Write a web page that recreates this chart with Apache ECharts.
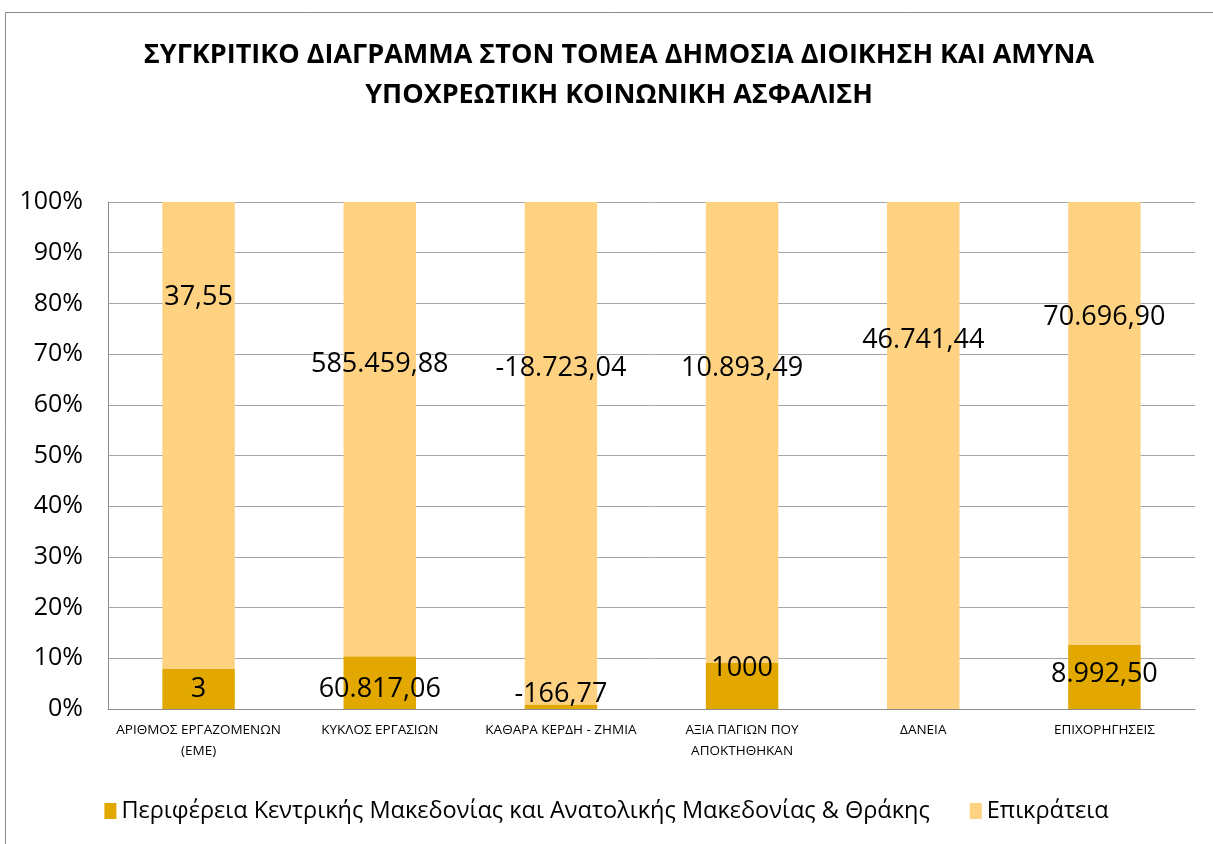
<!DOCTYPE html>
<html>
<head>
<meta charset="utf-8">
<script src="https://cdn.jsdelivr.net/npm/echarts@6/dist/echarts.min.js"></script>
<style>
  html, body { margin: 0; padding: 0; background: #fff; }
  #chart { width: 1213px; height: 844px; }
</style>
</head>
<body>
<div id="chart"></div>
<script>
  // κατηγορίες και τιμές όπως στο διάγραμμα
  const categories = [
    'ΑΡΙΘΜΟΣ ΕΡΓΑΖΟΜΕΝΩΝ\n(ΕΜΕ)',
    'ΚΥΚΛΟΣ ΕΡΓΑΣΙΩΝ',
    'ΚΑΘΑΡΑ ΚΕΡΔΗ - ΖΗΜΙΑ',
    'ΑΞΙΑ ΠΑΓΙΩΝ ΠΟΥ\nΑΠΟΚΤΗΘΗΚΑΝ',
    'ΔΑΝΕΙΑ',
    'ΕΠΙΧΟΡΗΓΗΣΕΙΣ'
  ]
  const regionValues = [3, 60817.06, -166.77, 1000, null, 8992.50]
  const stateValues = [37.55, 585459.88, -18723.04, 10893.49, 46741.44, 70696.90]
  const yTicks = [0, 10, 20, 30, 40, 50, 60, 70, 80, 90, 100]

  // label offsets (pixels), styling only
  const regionLabelShift = [1, 7, -12, -17, 0, -2]
  const stateLabelShift = [82, 149, 153, 153, 125, 102]

  const regionName = 'Περιφέρεια Κεντρικής Μακεδονίας και Ανατολικής Μακεδονίας & Θράκης'
  const stateName = 'Επικράτεια'

  function fmt (v) {
    if (v === null || v === undefined) return ''
    if (Number.isInteger(v)) return String(v)
    const neg = v < 0
    const parts = Math.abs(v).toFixed(2).split('.')
    const intPart = parts[0].replace(/\B(?=(\d{3})+(?!\d))/g, '.')
    return (neg ? '-' : '') + intPart + ',' + parts[1]
  }

  // share of the region relative to the state total, rest up to 100%
  const regionShare = regionValues.map((v, i) => v === null ? 0 : v / stateValues[i] * 100)
  const stateShare = regionShare.map(s => 100 - s)

  const font = "'Open Sans', 'Noto Sans', sans-serif"
  const chart = echarts.init(document.getElementById('chart'))

  const option = {
    animation: false,
    textStyle: { fontFamily: font },
    graphic: [{
      type: 'rect',
      left: 3, top: 10,
      shape: { width: 1230, height: 860 },
      style: { fill: 'none', stroke: '#8c8c8c', lineWidth: 1 },
      silent: true
    }],
    title: {
      text: 'ΣΥΓΚΡΙΤΙΚΟ ΔΙΑΓΡΑΜΜΑ ΣΤΟΝ ΤΟΜΕΑ ΔΗΜΟΣΙΑ ΔΙΟΙΚΗΣΗ ΚΑΙ ΑΜΥΝΑ\nΥΠΟΧΡΕΩΤΙΚΗ ΚΟΙΝΩΝΙΚΗ ΑΣΦΑΛΙΣΗ',
      left: 614,
      textAlign: 'center',
      top: 30,
      textStyle: { fontFamily: font, fontSize: 27, fontWeight: 'bold', color: '#000', lineHeight: 40 }
    },
    legend: {
      bottom: 16,
      left: 'center',
      itemWidth: 12,
      itemHeight: 16,
      itemGap: 40,
      icon: 'rect',
      textStyle: { fontFamily: font, fontSize: 23.5, color: '#000' },
      data: [regionName, stateName]
    },
    grid: { left: 108, right: 18, top: 202, bottom: 135 },
    xAxis: {
      type: 'category',
      data: categories,
      axisTick: { show: false },
      axisLine: { lineStyle: { color: '#8c8c8c', width: 1 } },
      axisLabel: { color: '#000', fontSize: 13.5, lineHeight: 21, margin: 11, fontFamily: font, interval: 0 }
    },
    yAxis: {
      type: 'value',
      min: 0,
      max: 100,
      interval: 10,
      axisLine: { show: true, lineStyle: { color: '#8c8c8c' } },
      axisTick: { show: false },
      splitLine: { lineStyle: { color: '#a6a6a6', width: 1 } },
      axisLabel: {
        color: '#000',
        fontSize: 25,
        margin: 25,
        fontFamily: font,
        formatter: v => yTicks.includes(v) ? v + '%' : ''
      }
    },
    series: [
      {
        name: regionName,
        type: 'bar',
        stack: 'total',
        barWidth: '40%',
        itemStyle: { color: '#E3A800' },
        data: regionShare.map((s, i) => ({
          value: s,
          label: {
            show: regionValues[i] !== null,
            position: 'inside',
            offset: [0, regionLabelShift[i]],
            formatter: () => fmt(regionValues[i]),
            fontSize: 27,
            color: '#000',
            fontFamily: font
          }
        }))
      },
      {
        name: stateName,
        type: 'bar',
        stack: 'total',
        barWidth: '40%',
        itemStyle: { color: '#FFD282' },
        data: stateShare.map((s, i) => ({
          value: s,
          label: {
            show: true,
            position: 'insideTop',
            distance: 0,
            offset: [0, stateLabelShift[i]],
            formatter: () => fmt(stateValues[i]),
            fontSize: 27,
            color: '#000',
            fontFamily: font
          }
        }))
      }
    ]
  }

  chart.setOption(option)
</script>
</body>
</html>
